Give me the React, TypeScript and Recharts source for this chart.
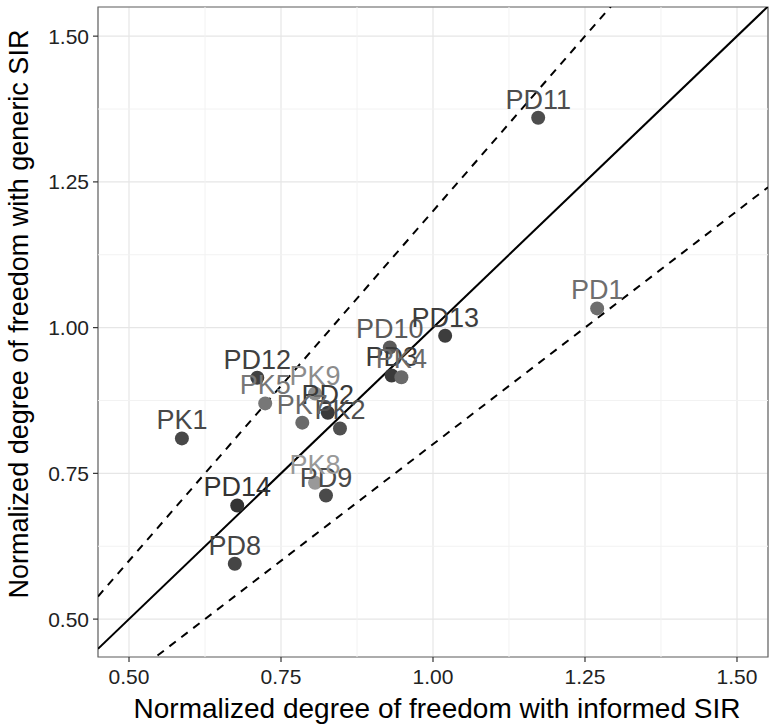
import React from 'react';
import { ScatterChart, Scatter, XAxis, YAxis, CartesianGrid, ReferenceLine, ReferenceArea } from 'recharts';

const names = ['PD1', 'PD2', 'PD3', 'PD8', 'PD9', 'PD10', 'PD11', 'PD12', 'PD13', 'PD14', 'PK1', 'PK2', 'PK4', 'PK5', 'PK7', 'PK8', 'PK9'];
const informedSIR = [1.270, 0.827, 0.932, 0.674, 0.824, 0.929, 1.173, 0.711, 1.020, 0.678, 0.587, 0.847, 0.948, 0.724, 0.785, 0.806, 0.806];
const genericSIR = [1.033, 0.854, 0.918, 0.595, 0.712, 0.966, 1.360, 0.914, 0.986, 0.695, 0.810, 0.827, 0.915, 0.870, 0.837, 0.734, 0.887];
const pointColors = ['#6e6e6e', '#3a3a3a', '#3a3a3a', '#454545', '#4a4a4a', '#5a5a5a', '#4d4d4d', '#404040', '#3d3d3d', '#333333', '#484848', '#505050', '#6a6a6a', '#777777', '#6a6a6a', '#999999', '#8c8c8c'];

const xTicks = [0.5, 0.75, 1.0, 1.25, 1.5];
const yTicks = [0.5, 0.75, 1.0, 1.25, 1.5];
const minorTicks = [0.625, 0.875, 1.125, 1.375];
const xDomain = [0.449, 1.551];
const yDomain = [0.435, 1.55];
const refSlopes = [1.2, 0.8];

const data = names.map((n, i) => ({ name: n, x: informedSIR[i], y: genericSIR[i], color: pointColors[i] }));

const FONT = '"Liberation Sans", Arial, Helvetica, sans-serif';

const Dot = (props: any) => {
  const { cx, cy, payload } = props;
  if (cx == null || cy == null) return null;
  return <circle cx={cx} cy={cy} r={7} fill={payload.color} />;
};

const Lab = (props: any) => {
  const { cx, cy, payload } = props;
  if (cx == null || cy == null) return null;
  return (
    <text x={cx} y={cy - 9} textAnchor="middle" fontSize={27} fontFamily={FONT} fill={payload.color}>
      {payload.name}
    </text>
  );
};

const YTitle = (props: any) => {
  const vb = props.viewBox || { x: 0, y: 7, width: 98, height: 650 };
  const cx = 28;
  const cy = vb.y + vb.height / 2 - 18;
  return (
    <text x={cx} y={cy} transform={`rotate(-90 ${cx} ${cy})`} textAnchor="middle" fontSize={27} fontFamily={FONT} fill="#000">
      Normalized degree of freedom with generic SIR
    </text>
  );
};

const XTitle = (props: any) => {
  const vb = props.viewBox || { x: 98, y: 657, width: 670, height: 68 };
  const cx = vb.x + vb.width / 2 + 4;
  return (
    <text x={cx} y={718} textAnchor="middle" fontSize={28} fontFamily={FONT} fill="#000">
      Normalized degree of freedom with informed SIR
    </text>
  );
};

export default function App() {
  return (
    <div style={{ position: 'absolute', left: 0, top: 0, background: '#fff' }}>
      <ScatterChart width={774} height={725} margin={{ top: 7, right: 6, bottom: 0, left: 0 }}>
        {minorTicks.map((t) => (
          <ReferenceLine key={'mx' + t} x={t} stroke="#f2f2f2" strokeWidth={1} />
        ))}
        {minorTicks.map((t) => (
          <ReferenceLine key={'my' + t} y={t} stroke="#f2f2f2" strokeWidth={1} />
        ))}
        <CartesianGrid stroke="#e6e6e6" strokeWidth={1.2} />
        <XAxis
          type="number"
          dataKey="x"
          domain={xDomain}
          allowDataOverflow
          ticks={xTicks}
          tickFormatter={(v: number) => v.toFixed(2)}
          height={68}
          axisLine={false}
          tickLine={{ stroke: '#333', strokeWidth: 1.2 }}
          tickSize={5}
          tickMargin={7}
          tick={{ fontSize: 21, fill: '#222', fontFamily: FONT }}
          label={<XTitle />}
        />
        <YAxis
          type="number"
          dataKey="y"
          domain={yDomain}
          allowDataOverflow
          ticks={yTicks}
          tickFormatter={(v: number) => v.toFixed(2)}
          width={98}
          axisLine={false}
          tickLine={{ stroke: '#333', strokeWidth: 1.2 }}
          tickSize={5}
          tickMargin={4}
          tick={{ fontSize: 21, fill: '#222', fontFamily: FONT }}
          label={<YTitle />}
        />
        <Scatter data={data} shape={<Dot />} isAnimationActive={false} />
        <Scatter data={data} shape={<Lab />} isAnimationActive={false} />
        <ReferenceLine
          segment={[{ x: xDomain[0], y: xDomain[0] }, { x: xDomain[1], y: xDomain[1] }]}
          stroke="#000"
          strokeWidth={2}
          ifOverflow="hidden"
        />
        {refSlopes.map((k) => (
          <ReferenceLine
            key={'s' + k}
            segment={[{ x: xDomain[0], y: xDomain[0] * k }, { x: xDomain[1], y: xDomain[1] * k }]}
            stroke="#000"
            strokeWidth={2}
            strokeDasharray="8 7"
            ifOverflow="hidden"
          />
        ))}
        <ReferenceArea
          x1={xDomain[0]}
          x2={xDomain[1]}
          y1={yDomain[0]}
          y2={yDomain[1]}
          fill="none"
          stroke="#666"
          strokeWidth={1.2}
          ifOverflow="visible"
        />
      </ScatterChart>
    </div>
  );
}
